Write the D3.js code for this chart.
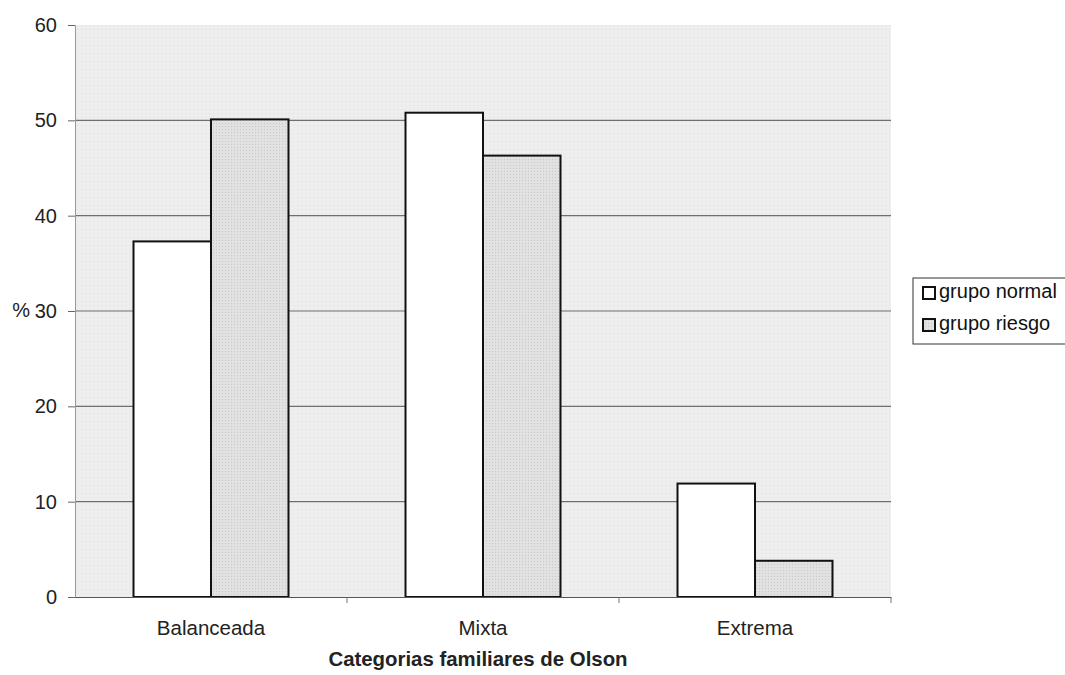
<!DOCTYPE html>
<html>
<head>
<meta charset="utf-8">
<script src="https://cdn.jsdelivr.net/npm/d3@7"></script>
<style>
  body { margin: 0; background: #fff; }
  svg { display: block; font-family: "Liberation Sans", Arial, sans-serif; }
</style>
</head>
<body>
<svg id="chart" width="1065" height="675"></svg>
<script>
// Family categories (Olson) and percentage per group
const categories = ["Balanceada", "Mixta", "Extrema"];
const seriesNames = ["grupo normal", "grupo riesgo"];
const grupoNormal = [37.3, 50.8, 11.9];
const grupoRiesgo = [50.1, 46.3, 3.8];
const yTicks = [0, 10, 20, 30, 40, 50, 60];

const svg = d3.select("#chart");
const margin = { left: 75, right: 174, top: 25, bottom: 78 };
const W = 1065, H = 675;
const x0 = margin.left, x1 = W - margin.right;
const y0 = H - margin.bottom, y1 = margin.top;

const defs = svg.append("defs");
const pat = defs.append("pattern").attr("id", "dots")
  .attr("width", 3).attr("height", 3).attr("patternUnits", "userSpaceOnUse");
pat.append("rect").attr("width", 3).attr("height", 3).attr("fill", "#e1e1e1");
pat.append("rect").attr("width", 1).attr("height", 1).attr("fill", "#c9c9c9");
const bgPat = defs.append("pattern").attr("id", "bgdots")
  .attr("width", 4).attr("height", 4).attr("patternUnits", "userSpaceOnUse");
bgPat.append("rect").attr("width", 4).attr("height", 4).attr("fill", "#eeeeee");
bgPat.append("rect").attr("x", 1).attr("y", 1).attr("width", 1).attr("height", 1).attr("fill", "#e0e0e0");

const x = d3.scaleBand().domain(categories).range([x0, x1]).paddingInner(0).paddingOuter(0);
const xs = d3.scaleBand().domain(seriesNames).range([0, x.bandwidth()]).paddingInner(0).paddingOuter(0.755);
const y = d3.scaleLinear().domain([0, 60]).range([y0, y1]);

// plot background
svg.append("rect").attr("x", x0).attr("y", y1).attr("width", x1 - x0).attr("height", y0 - y1)
  .attr("fill", "url(#bgdots)");

// horizontal gridlines
svg.append("g").selectAll("line").data(yTicks.filter(d => d > 0 && d < 60)).join("line")
  .attr("x1", x0).attr("x2", x1).attr("y1", d => y(d)).attr("y2", d => y(d))
  .attr("stroke", "#707070").attr("stroke-width", 1.2);

// bars
const fills = ["#ffffff", "url(#dots)"];
const values = [grupoNormal, grupoRiesgo];
const rows = [];
categories.forEach((c, i) => seriesNames.forEach((s, j) => rows.push({ c, s, j, v: values[j][i] })));
svg.append("g").selectAll("rect").data(rows).join("rect")
  .attr("x", d => x(d.c) + xs(d.s))
  .attr("y", d => y(d.v))
  .attr("width", xs.bandwidth())
  .attr("height", d => y(0) - y(d.v))
  .attr("fill", d => fills[d.j])
  .attr("stroke", "#111").attr("stroke-width", 2);

// y axis
const yAxis = d3.axisLeft(y).tickValues(yTicks).tickSize(7).tickPadding(11).tickFormat(d3.format("d"));
const gy = svg.append("g").attr("transform", `translate(${x0},0)`).call(yAxis);
gy.select(".domain").attr("stroke", "#999");
gy.selectAll(".tick line").attr("stroke", "#666");
gy.selectAll(".tick text").attr("font-size", 20).attr("fill", "#222");

// x axis
const xAxis = d3.axisBottom(x).tickSize(0).tickPadding(23);
const gx = svg.append("g").attr("transform", `translate(0,${y0})`).call(xAxis);
gx.select(".domain").attr("stroke", "#555");
gx.selectAll(".tick text").attr("font-size", 20.5).attr("fill", "#222");
// category separators on the x axis
svg.append("g").selectAll("line").data(categories.slice(1).concat(["end"])).join("line")
  .attr("x1", (d, i) => x0 + (i + 1) * x.step()).attr("x2", (d, i) => x0 + (i + 1) * x.step())
  .attr("y1", y0).attr("y2", y0 + 6).attr("stroke", "#777");

// y unit label
svg.append("text").attr("x", 30).attr("y", y(30)).attr("dy", "0.32em")
  .attr("text-anchor", "end").attr("font-size", 20).attr("fill", "#222").text("%");

// x axis title
svg.append("text").attr("x", 478).attr("y", 666)
  .attr("text-anchor", "middle").attr("font-size", 20.4).attr("font-weight", "bold")
  .attr("fill", "#222").text("Categorias familiares de Olson");

// legend
const lg = svg.append("g").attr("transform", "translate(913,278)");
lg.append("rect").attr("x", 0).attr("y", 0).attr("width", 160).attr("height", 66)
  .attr("fill", "#fff").attr("stroke", "#333").attr("stroke-width", 1);
seriesNames.forEach((s, j) => {
  const base = 20 + j * 32;
  lg.append("rect").attr("x", 10).attr("y", base - 11).attr("width", 12).attr("height", 12)
    .attr("fill", fills[j]).attr("stroke", "#111").attr("stroke-width", 2);
  lg.append("text").attr("x", 26).attr("y", base)
    .attr("font-size", 20).attr("fill", "#111").text(s);
});
</script>
</body>
</html>
